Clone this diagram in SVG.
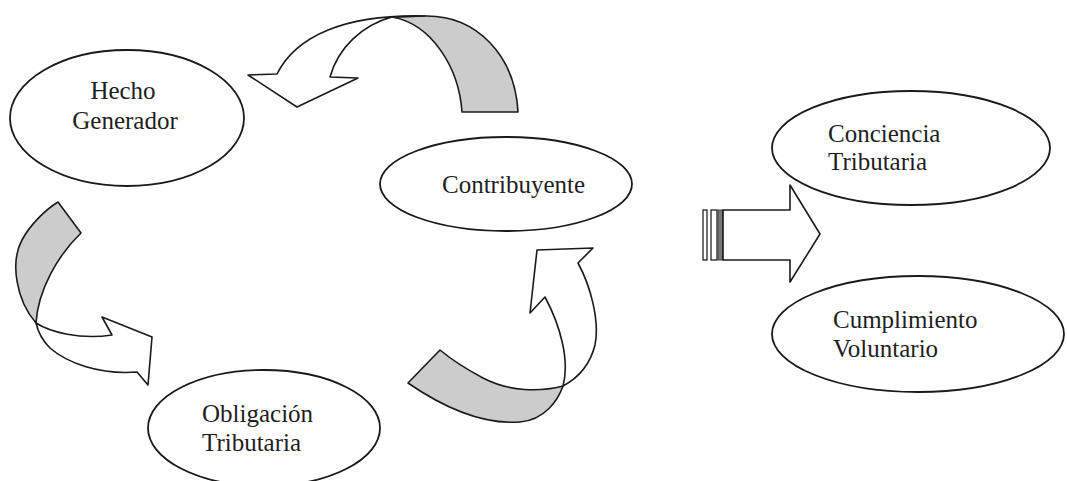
<svg xmlns="http://www.w3.org/2000/svg" width="1067" height="481" viewBox="0 0 1067 481">
<style>
.node ellipse{fill:#fff;stroke:#1a1a1a;stroke-width:1.8}
.lbl{font-family:"Liberation Serif","Times New Roman",serif;font-size:25px;fill:#1e1e1e}
.band{fill:#cccccc;stroke:#1a1a1a;stroke-width:1.6;stroke-linejoin:round}
.arr{fill:#fff;stroke:#1a1a1a;stroke-width:1.6;stroke-linejoin:round}
</style>
<rect width="1067" height="481" fill="#fff"/>
<g id="connectors">
  <g id="arrow-top">
    <path class="band" d="M392,17 C432,24 459,68 462,112 L518,112 C515,55 476,15 425,16 Z"/>
    <path class="arr" d="M425,16 C345,14 296,36 277,74 L248,75 L297,107 L358,78 L330,77 C338,48 362,25 392,17 Z"/>
  </g>
  <g id="arrow-left">
    <path class="band" d="M58,202 L81,233 C58,255 38,290 36,323 C16,300 10,262 22,240 C30,225 45,210 58,202 Z"/>
    <path class="arr" d="M36,323 C50,332 80,340 112,335 L102,317 L152,337 L148,385 L137,372 C100,375 67,363 50,348 C42,340 38,332 36,323 Z"/>
  </g>
  <g id="arrow-bottom">
    <path class="band" d="M440,350 L408,383 C440,405 480,425 520,422 C545,420 558,400 563,386 C540,392 510,392 483,378 C468,370 452,360 440,350 Z"/>
    <path class="arr" d="M563,386 C570,360 560,325 545,297 L530,313 L537,250 L593,248 L578,263 C590,285 600,320 595,345 C590,365 578,378 563,386 Z"/>
  </g>
  <g id="arrow-right">
    <rect x="703" y="210" width="4" height="50" fill="#fff" stroke="#222" stroke-width="1.3"/>
    <rect x="711" y="210" width="6" height="50" fill="#fff" stroke="#222" stroke-width="1.3"/>
    <rect x="718" y="210" width="5" height="50" fill="#777" stroke="#444" stroke-width="1"/>
    <path class="arr" d="M723,210 L790,210 L790,185 L820,234 L790,282 L790,260 L723,260 Z"/>
  </g>
</g>
<g id="hecho" class="node">
  <ellipse cx="127" cy="118" rx="117" ry="68"/>
  <text class="lbl" x="123" y="99" text-anchor="middle">Hecho</text>
  <text class="lbl" x="125" y="129" text-anchor="middle">Generador</text>
</g>
<g id="contribuyente" class="node">
  <ellipse cx="506" cy="184" rx="126" ry="47"/>
  <text class="lbl" x="442" y="193">Contribuyente</text>
</g>
<g id="obligacion" class="node">
  <ellipse cx="264" cy="428" rx="116" ry="58"/>
  <text class="lbl" x="202" y="422">Obligación</text>
  <text class="lbl" x="202" y="451">Tributaria</text>
</g>
<g id="conciencia" class="node">
  <ellipse cx="911" cy="148" rx="139" ry="57"/>
  <text class="lbl" x="828" y="142">Conciencia</text>
  <text class="lbl" x="828" y="170">Tributaria</text>
</g>
<g id="cumplimiento" class="node">
  <ellipse cx="918" cy="334" rx="146" ry="58"/>
  <text class="lbl" x="833" y="328">Cumplimiento</text>
  <text class="lbl" x="833" y="357">Voluntario</text>
</g>
</svg>
